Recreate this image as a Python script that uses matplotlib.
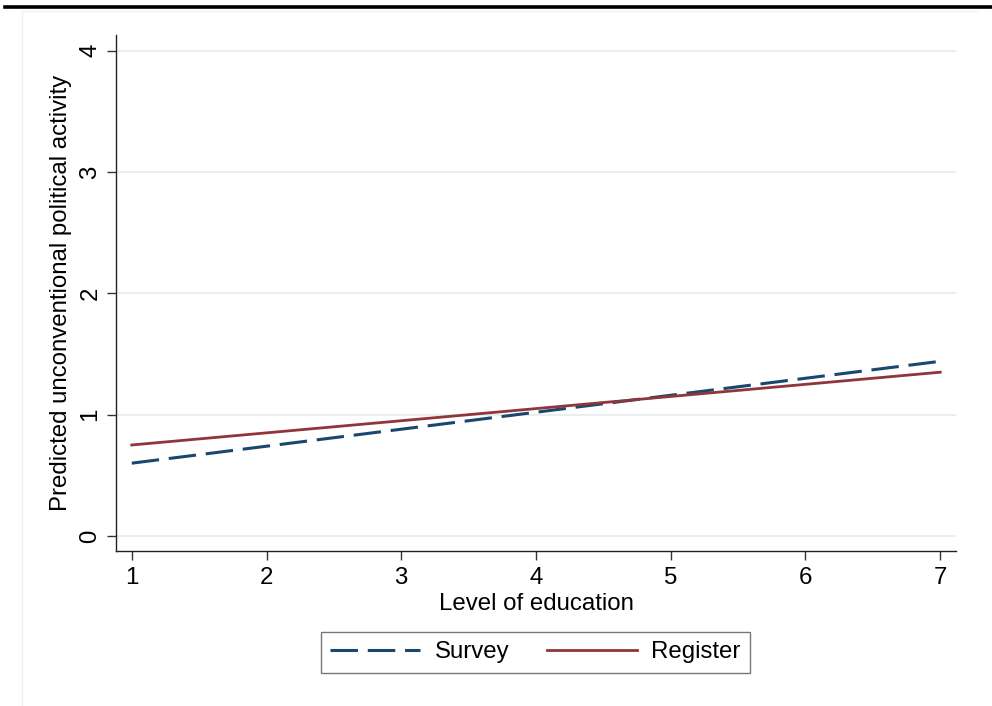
import matplotlib
matplotlib.use("Agg")
import matplotlib.pyplot as plt
from matplotlib.lines import Line2D

# ---- data ----
education = [1, 2, 3, 4, 5, 6, 7]
survey = [0.60, 0.74, 0.88, 1.02, 1.16, 1.30, 1.44]
register = [0.75, 0.85, 0.95, 1.05, 1.15, 1.25, 1.35]
yticks = [0, 1, 2, 3, 4]
xticks = [1, 2, 3, 4, 5, 6, 7]
xlabel = "Level of education"
ylabel = "Predicted unconventional political activity"
series_names = ["Survey", "Register"]

navy = "#1a476f"
maroon = "#90353b"
grid_c = "#e6eef0"
FS = 17.3

plt.rcParams["font.family"] = ["Liberation Sans", "DejaVu Sans"]

fig = plt.figure(figsize=(9.92, 7.06), dpi=100)
fig.patch.set_facecolor("white")

# faint graph-region outline (top and left edges only)
fig.add_artist(Line2D([22 / 992, 978 / 992], [1 - 11 / 706, 1 - 11 / 706],
                      transform=fig.transFigure, color="#edf1f1", lw=1.0))
fig.add_artist(Line2D([22 / 992, 22 / 992], [0, 1 - 11 / 706],
                      transform=fig.transFigure, color="#edf1f1", lw=1.0))
# top black rule
fig.add_artist(Line2D([5 / 992, 1.0], [1 - 6.8 / 706, 1 - 6.8 / 706],
                      transform=fig.transFigure, color="black", lw=2.6))

ax = fig.add_axes([116 / 992, 1 - 551 / 706, (956 - 116) / 992, (551 - 35) / 706])

ax.plot(education, survey, color=navy, lw=2.2, dashes=(9, 3.2), label=series_names[0],
        solid_capstyle="butt", dash_capstyle="butt")
ax.plot(education, register, color=maroon, lw=2.0, label=series_names[1])

ax.set_xlim(0.883, 7.117)
ax.set_ylim(-0.124, 4.13)
ax.set_xticks(xticks)
ax.set_yticks(yticks)
ax.set_xticklabels([str(v) for v in xticks], fontsize=FS)
ax.set_yticklabels([str(v) for v in yticks], fontsize=FS, rotation=90, va="center")

for yv in yticks:
    ax.axhline(yv, color=grid_c, lw=1.3, zorder=0)

for s in ["top", "right"]:
    ax.spines[s].set_visible(False)
for s in ["left", "bottom"]:
    ax.spines[s].set_color("#222222")
    ax.spines[s].set_linewidth(1.0)

ax.tick_params(axis="both", direction="out", length=6.5, width=1.0, color="#333333")
ax.tick_params(axis="y", pad=4)
ax.tick_params(axis="x", pad=5)

ax.set_xlabel(xlabel, fontsize=FS)
ax.set_ylabel(ylabel, fontsize=FS)
ax.xaxis.set_label_coords(0.5, -0.082)
ax.yaxis.set_label_coords(-0.052, 0.5)

leg = fig.legend(loc="center", bbox_to_anchor=(535.5 / 992, 1 - 652.4 / 706),
                 ncol=2, fontsize=FS, frameon=True, fancybox=False,
                 handlelength=3.75, handletextpad=0.6, columnspacing=1.55,
                 borderpad=0.4, borderaxespad=0)
leg.get_frame().set_edgecolor("#555555")
leg.get_frame().set_linewidth(1.0)

fig.savefig("out.png", dpi=100, facecolor="white")
